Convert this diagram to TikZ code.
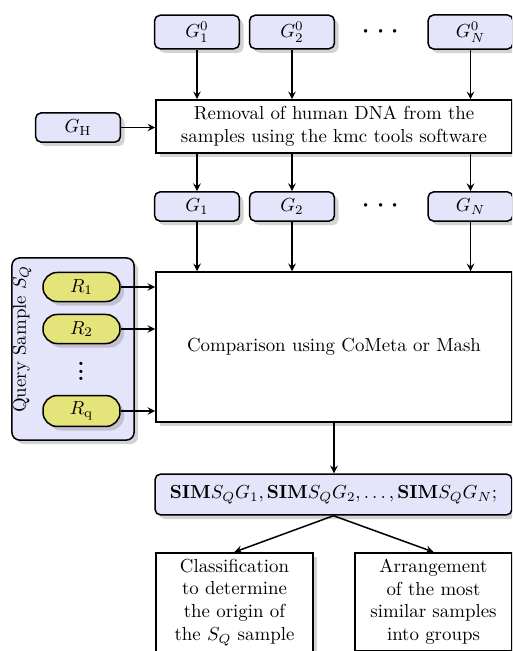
\documentclass[tikz,border=0pt]{standalone}
\usetikzlibrary{shadows}
\definecolor{boxblue}{RGB}{228,228,250}
\definecolor{readyellow}{RGB}{228,228,122}
\tikzset{
  softshadow/.style={drop shadow={opacity=0.35}},
  genome/.style={draw=black, thick, fill=boxblue, rounded corners=3pt, softshadow, minimum width=45pt, inner sep=3.6pt},
  readbox/.style={draw=black, thick, fill=readyellow, rounded corners=7.5pt, softshadow, minimum width=40.8pt, minimum height=15.4pt},
  process/.style={draw=black, thick, fill=white, softshadow, align=center},
  flow/.style={->, >=stealth, thick}
}
\begin{document}
\begin{tikzpicture}[x=0.53pt, y=-0.53pt]
	\path[use as bounding box, clip] (0,0) rectangle (512,651);
	% input genomes
	\node[genome] (g01) at (197,32) {$G_1^0$};
	\node[genome] (g02) at (292,32) {$G_2^0$};
	\node[inner sep=0pt] (gdots0) at (381,32) {\LARGE$\cdots$};
	\node[genome] (g0n) at (470.5,32) {$G_N^0$};
	\node[genome] (gh) at (78,127.5) {$G_{\mathrm{H}}$};
	\node[process, minimum width=188.7pt, minimum height=28.1pt, text width=180pt] (removal) at (334,126.5) {Removal of human DNA from the\\ samples using the kmc tools software};
	\node[genome] (g1) at (197,206.5) {$G_1$};
	\node[genome] (g2) at (292,206.5) {$G_2$};
	\node[inner sep=0pt] (gdots) at (381,206.5) {\LARGE$\cdots$};
	\node[genome] (gn) at (470.5,206.5) {$G_N$};
	% query sample
	\node[draw=black, thick, fill=boxblue, rounded corners=4pt, softshadow, minimum width=64.7pt, minimum height=96.5pt] (query) at (73,349) {};
	\node[rotate=90] (qlabel) at (22,339) {Query Sample $S_Q$};
	\node[readbox] (r1) at (81.5,287) {$R_1$};
	\node[readbox] (r2) at (81.5,329) {$R_2$};
	\node[inner sep=0pt] (rdots) at (81.5,366) {\huge$\vdots$};
	\node[readbox] (rq) at (81.5,411) {$R_{\mathrm{q}}$};
	\node[process, minimum width=188.7pt, minimum height=79.5pt] (compare) at (334,347) {Comparison using CoMeta or Mash};
	% results
	\node[genome, minimum width=189.2pt, minimum height=21.7pt] (sim) at (333.5,494.5) {$\mathbf{SIM}S_QG_1, \mathbf{SIM}S_QG_2, \ldots, \mathbf{SIM}S_QG_N;$};
	\node[process, text width=76pt, minimum width=83.2pt, anchor=north] (classify) at (234.5,552) {Classification\\ to determine\\ the origin of\\ the $S_Q$ sample};
	\node[process, text width=76pt, minimum width=83.2pt, anchor=north] (arrange) at (433.5,552) {Arrangement\\ of the most\\ similar samples\\ into groups};
	% connectors
	\foreach \a/\b in {g01/g1, g02/g2, g0n/gn} {
		\draw[flow] (\a.south) -- (\a.south |- removal.north);
		\draw[flow] (\a.south |- removal.south) -- (\b.north);
		\draw[flow] (\b.south) -- (\b.south |- compare.north);
	}
	\draw[flow] (gh.east) -- (gh.east -| removal.west);
	\foreach \r in {r1, r2, rq}
		\draw[flow] (\r.east) -- (\r.east -| compare.west);
	\draw[flow] (compare.south) -- (compare.south |- sim.north);
	\draw[flow] (sim.south) -- (classify.north);
	\draw[flow] (sim.south) -- (arrange.north);
\end{tikzpicture}
\end{document}
